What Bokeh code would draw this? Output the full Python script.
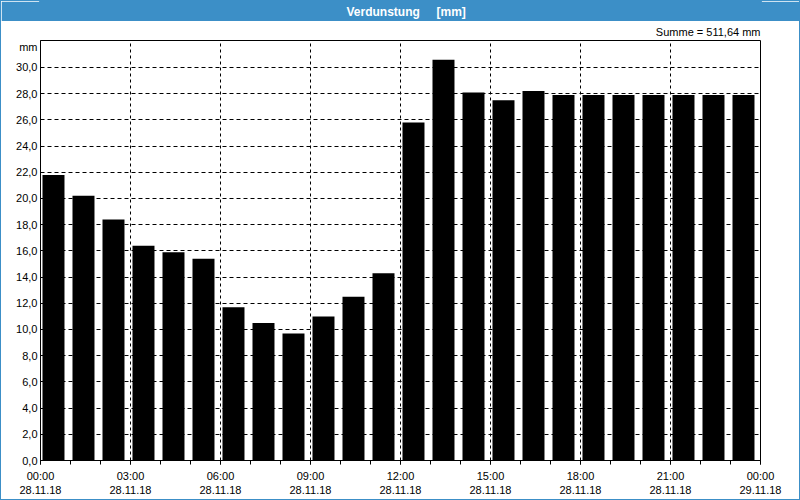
from bokeh.plotting import figure
from bokeh.models import Range1d, FixedTicker, Title
from bokeh.layouts import column
from bokeh.transform import dodge
from bokeh.core.properties import value
from bokeh.embed import file_html
from bokeh.resources import INLINE

# ---- data ----
hours = list(range(24))
evaporation = [21.8, 20.2, 18.4, 16.4, 15.9, 15.4, 11.7, 10.5, 9.7, 11.0, 12.5, 14.3,
               25.8, 30.6, 28.1, 27.5, 28.2, 27.9, 27.9, 27.9, 27.9, 27.9, 27.9, 27.9]
x_ticks = [0, 3, 6, 9, 12, 15, 18, 21, 24]
x_tick_times = ["00:00", "03:00", "06:00", "09:00", "12:00", "15:00", "18:00", "21:00", "00:00"]
x_tick_dates = ["28.11.18", "28.11.18", "28.11.18", "28.11.18", "28.11.18",
                "28.11.18", "28.11.18", "28.11.18", "29.11.18"]
y_ticks = [0, 2, 4, 6, 8, 10, 12, 14, 16, 18, 20, 22, 24, 26, 28, 30]
y_tick_labels = ["0,0", "2,0", "4,0", "6,0", "8,0", "10,0", "12,0", "14,0", "16,0",
                 "18,0", "20,0", "22,0", "24,0", "26,0", "28,0", "30,0"]
unit_pos = 31.6
title_main = "Verdunstung"
title_unit = "[mm]"
sum_text = "Summe = 511,64 mm"
unit_text = "mm"

BLUE = "#3c8fc7"
FONT = "Liberation Sans"

# ---- header bar ----
# the column aligns the header frame with the chart frame (page x 40..760),
# so the header x range is expressed in page pixels over that frame
header = figure(width=798, height=20, x_range=Range1d(40, 760), y_range=Range1d(0, 20),
                toolbar_location=None, output_backend="svg", min_border=0,
                x_axis_location=None, y_axis_location=None)
header.grid.visible = False
header.outline_line_color = BLUE
header.outline_line_width = 3
header.background_fill_color = BLUE
header.border_fill_color = BLUE
header.text(x=[346, 436], y=[10, 10], text=[title_main, title_unit],
            text_font=value(FONT), text_font_style="bold", text_font_size="12px",
            text_color="white", text_align="left", text_baseline="middle")

# ---- main chart ----
p = figure(width=798, height=478, x_range=Range1d(0, 24), y_range=Range1d(0, 32.06),
           toolbar_location=None, output_backend="svg",
           min_border_left=39, min_border_right=39, min_border_top=19, min_border_bottom=39)
p.background_fill_color = "white"
p.border_fill_color = "white"
p.outline_line_color = "black"
p.outline_line_width = 1

p.vbar(x=dodge("hour", 0.433), top="val", width=0.733,
       source=dict(hour=hours, val=evaporation),
       fill_color="black", line_color=None)

# x axis
p.xaxis.ticker = FixedTicker(ticks=x_ticks, minor_ticks=hours + [24])
p.xaxis.major_label_overrides = {t: f"{a}\n{b}" for t, a, b in zip(x_ticks, x_tick_times, x_tick_dates)}
p.xaxis.axis_line_color = "black"
p.xaxis.major_tick_line_color = "black"
p.xaxis.minor_tick_line_color = "black"
p.xaxis.major_tick_in = 0
p.xaxis.major_tick_out = 4
p.xaxis.minor_tick_in = 0
p.xaxis.minor_tick_out = 4
p.xaxis.major_label_standoff = 5
p.xaxis.major_label_text_font = FONT
p.xaxis.major_label_text_font_size = "11px"
p.xaxis.major_label_text_color = "black"

# y axis (unit label "mm" sits at the top of the tick label column)
p.yaxis.ticker = FixedTicker(ticks=y_ticks + [unit_pos])
overrides = dict(zip(y_ticks, y_tick_labels))
overrides[unit_pos] = unit_text
p.yaxis.major_label_overrides = overrides
p.yaxis.axis_line_color = "black"
p.yaxis.major_tick_in = 0
p.yaxis.major_tick_out = 0
p.yaxis.minor_tick_line_color = None
p.yaxis.major_label_standoff = 3
p.yaxis.major_label_text_font = FONT
p.yaxis.major_label_text_font_size = "11px"
p.yaxis.major_label_text_color = "black"

# grids
p.xgrid.grid_line_color = "black"
p.xgrid.grid_line_dash = "3 3"
p.xgrid.grid_line_width = 1
p.ygrid.ticker = FixedTicker(ticks=y_ticks)
p.ygrid.grid_line_color = "black"
p.ygrid.grid_line_dash = "4 3"
p.ygrid.grid_line_width = 1

# sum text, right-aligned above the frame
p.add_layout(Title(text=sum_text, align="right", text_font=FONT, text_font_size="11px",
                   text_font_style="normal", text_color="black", standoff=5), "above")

layout = column(header, p, spacing=0, styles={"border": "1px solid " + BLUE})

with open("out.html", "w") as f:
    f.write(file_html(layout, INLINE))
